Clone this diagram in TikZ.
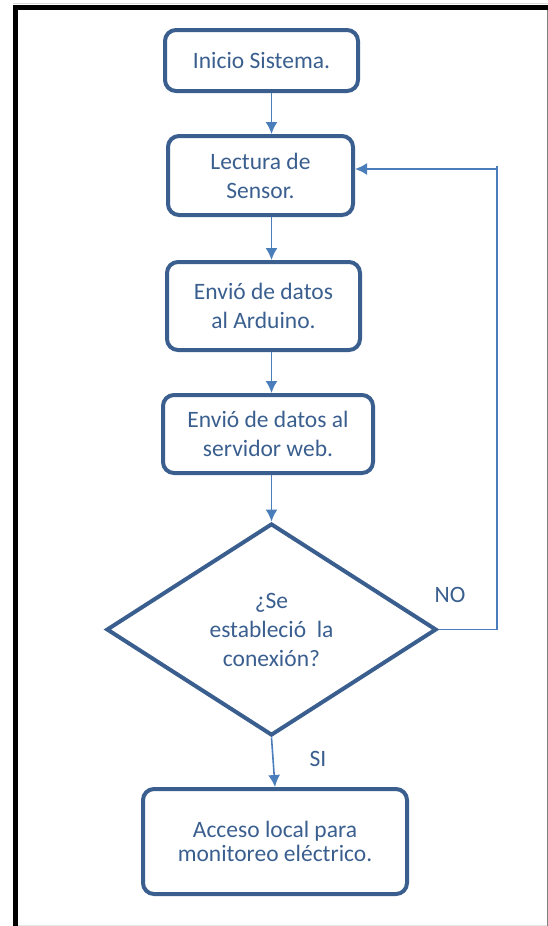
\documentclass[tikz,border=0pt]{standalone}
\usepackage{fontspec}
\setmainfont{Carlito}
\usepackage{xcolor}
\usetikzlibrary{shapes.geometric}
\usetikzlibrary{arrows.meta}
\definecolor{azulcaja}{HTML}{3A5F8F}
\definecolor{azulflecha}{HTML}{4A7EBB}
\tikzset{
  Caja/.style={draw=azulcaja,line width=4pt,rounded corners=11pt,align=center,text=azulcaja,inner sep=0pt}, % Kasten
  Rombo/.style={diamond,draw=azulcaja,line width=4pt,align=center,text=azulcaja,inner sep=0pt}, % Entscheidung
  Flecha/.style={azulflecha,line width=1.6pt,->}, % Pfeile
  Etiqueta/.style={text=azulcaja} % Ja/Nein
}
\begin{document}
\begin{tikzpicture}[
x=1pt,y=-1pt,
font=\fontsize{23.5}{29}\selectfont,
>={Latex[length=12pt,width=12pt]} % Pfeilspitzen
]
\useasboundingbox (0,0) rectangle (548,926);

%Rahmen
\draw[black!15,line width=1pt] (13,3.5) -- (548,3.5);
\draw[line width=5pt] (15.5,926) -- (15.5,7.5) -- (548,7.5);
\draw[gray,line width=1pt] (547,10) -- (547,926);
\draw[black!10,line width=1pt] (18,925) -- (547,925);

%Kaesten
\node[Caja,minimum width=193,minimum height=61] (inicio) at (261.5,60.5) {Inicio Sistema.};
\node[Caja,minimum width=185,minimum height=79] (lectura) at (260.5,175.5) {Lectura de\\Sensor.};
\node[Caja,minimum width=193,minimum height=88] (arduino) at (263.5,306) {Envió de datos\\al Arduino.};
\node[Caja,minimum width=210,minimum height=78] (servidor) at (268,434) {Envió de datos al\\servidor web.};
\node[Rombo,minimum width=330,minimum height=212] (conexion) at (271.5,629.5) {¿Se\\estableció\ \ la\\conexión?};
\node[Caja,minimum width=264,minimum height=105,font=\fontsize{23.5}{24}\selectfont] (acceso) at (275,841.5) {Acceso local para\\monitoreo eléctrico.};

%Beschriftung
\node[Etiqueta] (no) at (450,595) {NO};
\node[Etiqueta] (si) at (318,759) {SI};

%Pfeile
\draw[Flecha] (inicio.south -| conexion.north) -- (lectura.north -| conexion.north);
\draw[Flecha] (lectura.south -| conexion.north) -- (arduino.north -| conexion.north);
\draw[Flecha] (arduino.south -| conexion.north) -- (servidor.north -| conexion.north);
\draw[Flecha] (servidor.south -| conexion.north) -- (conexion.north);
\draw[Flecha] (conexion.south) -- (acceso.north);

%Rueckfuehrung
\coordinate (retorno) at (497,169);
\draw[azulflecha,line width=1.6pt] (conexion.east) -| ([yshift=3pt]retorno);
\draw[Flecha] (retorno) -- (retorno -| lectura.east);

\end{tikzpicture}
\end{document}
